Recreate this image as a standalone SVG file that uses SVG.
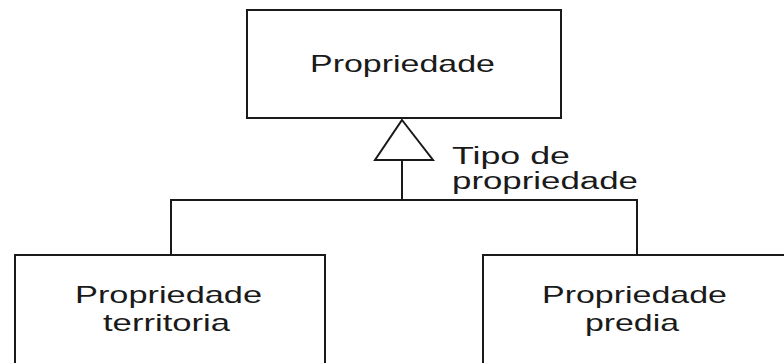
<svg xmlns="http://www.w3.org/2000/svg" width="784" height="363" viewBox="0 0 784 363">
<style>
.box{fill:#fff;stroke:#1a1a1a;stroke-width:2}
.ln{fill:none;stroke:#1a1a1a;stroke-width:2}
text{font-family:"Liberation Sans",Arial,sans-serif;font-size:24px;fill:#1a1a1a}
.lbl{font-size:23px}
</style>
<rect width="784" height="363" fill="#fff"/>
<g id="connectors">
<polyline class="ln" points="171,255 171,200 637,200 637,255"/>
<line class="ln" x1="402" y1="200" x2="402" y2="160"/>
<polygon class="box" points="402,120 433,160 375,160"/>
<text class="lbl" x="452" y="164" textLength="118" lengthAdjust="spacingAndGlyphs">Tipo de</text>
<text class="lbl" x="452" y="189" textLength="186" lengthAdjust="spacingAndGlyphs">propriedade</text>
</g>
<g id="propriedade">
<rect class="box" x="247" y="10" width="314" height="108"/>
<text x="310" y="72" textLength="185" lengthAdjust="spacingAndGlyphs">Propriedade</text>
</g>
<g id="territoria">
<rect class="box" x="15" y="255" width="310" height="120"/>
<text x="75" y="303" textLength="187" lengthAdjust="spacingAndGlyphs">Propriedade</text>
<text x="103" y="331" textLength="127" lengthAdjust="spacingAndGlyphs">territoria</text>
</g>
<g id="predia">
<rect class="box" x="483" y="255" width="320" height="120"/>
<text x="542" y="303" textLength="185" lengthAdjust="spacingAndGlyphs">Propriedade</text>
<text x="585" y="331" textLength="94" lengthAdjust="spacingAndGlyphs">predia</text>
</g>
</svg>
